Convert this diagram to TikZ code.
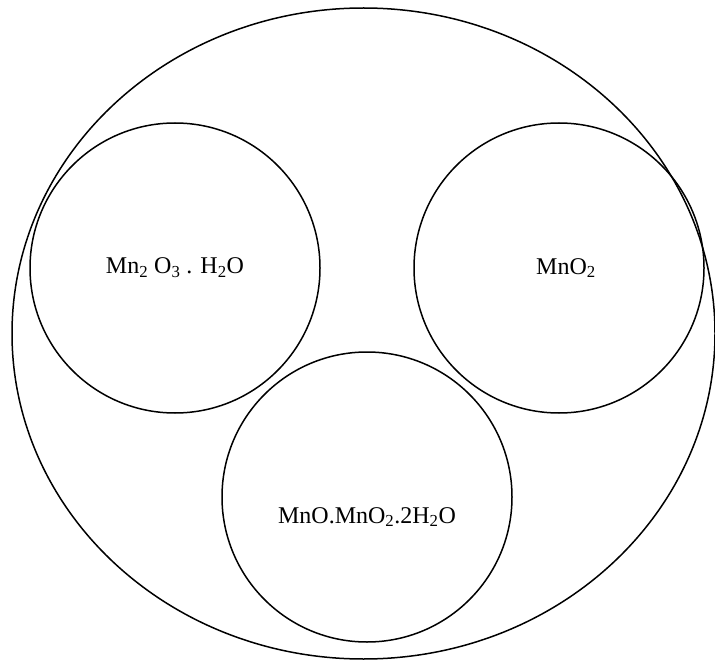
\documentclass[tikz,border=0pt]{standalone}
\usepackage{fontspec}
\setmainfont{Liberation Serif}
\usetikzlibrary{shapes.geometric}
\begin{document}
\begin{tikzpicture}[x=1pt,y=-1pt,
  outline/.style={draw=black,line width=1.5pt,inner sep=0pt},
  group/.style={outline,circle,minimum size=290pt},
  formula/.style={font=\fontsize{24}{28}\selectfont,inner sep=0pt}]
  \useasboundingbox (0,0) rectangle (715,663);
  % outer enclosure
  \node[outline,ellipse,minimum width=703pt,minimum height=651pt] (all) at (363.5,333.5) {};
  % three inner groups
  \node[group] (left) at (175,268) {};
  \node[group] (right) at (559,268) {};
  \node[group] (bottom) at (367,497) {};
  % labels
  \node[formula] (lbl1) at (left.center) {Mn\textsubscript{2} O\textsubscript{3} . H\textsubscript{2}O};
  \node[formula] (lbl2) at ([xshift=7pt]right.center) {MnO\textsubscript{2}};
  \node[formula] (lbl3) at ([yshift=-20pt]bottom.center) {MnO.MnO\textsubscript{2}.2H\textsubscript{2}O};
\end{tikzpicture}
\end{document}
